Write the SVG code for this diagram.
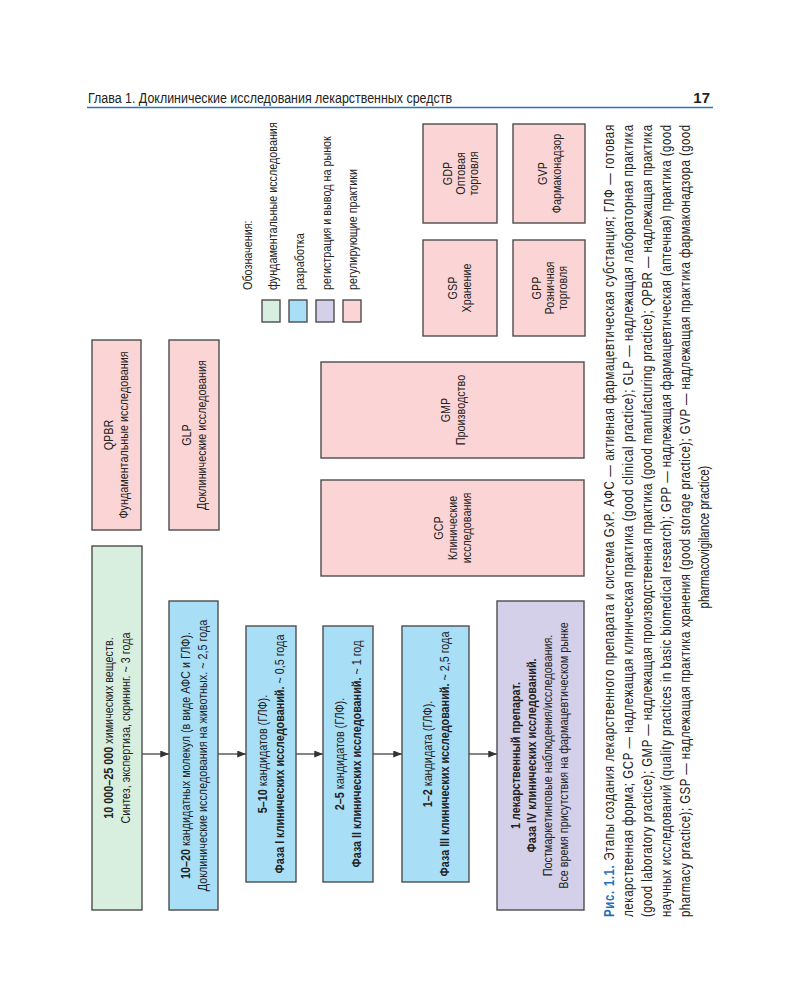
<svg xmlns="http://www.w3.org/2000/svg" width="800" height="1000" viewBox="0 0 800 1000">
<style>
text{font-family:"Liberation Sans",Arial,sans-serif;fill:#222}
.box{stroke:#4d4d4d;stroke-width:1.4}
.g{fill:#d8efdf}.b{fill:#a9def7}.p{fill:#d4d0ea}.r{fill:#fbd5d5}
.t{font-size:13px;text-anchor:middle}
.l{font-size:13px}
.c{font-size:14px}
.bd{font-weight:bold}
.conn{stroke:#333;stroke-width:1.2;fill:none}
</style>
<defs>
<marker id="ah" viewBox="0 0 10 8" refX="10" refY="4" markerWidth="9" markerHeight="7" markerUnits="userSpaceOnUse" orient="auto"><path d="M0,0 L10,4 L0,8 z" fill="#333"/></marker>
</defs>
<rect width="800" height="1000" fill="#fff"/>
<g id="header">
<text x="88" y="103" font-size="14" textLength="364" lengthAdjust="spacingAndGlyphs">Глава 1. Доклинические исследования лекарственных средств</text>
<text x="710" y="103" font-size="15" font-weight="bold" text-anchor="end">17</text>
<line x1="87" y1="107.5" x2="713" y2="107.5" stroke="#2a74c0" stroke-width="1.5"/>
</g>
<g id="connectors">
<path class="conn" d="M142,754 H169" marker-end="url(#ah)"/>
<path class="conn" d="M218,754 H246" marker-end="url(#ah)"/>
<path class="conn" d="M296,754 H323" marker-end="url(#ah)"/>
<path class="conn" d="M373,754 H402" marker-end="url(#ah)"/>
<path class="conn" d="M469,754 H497" marker-end="url(#ah)"/>
</g>
<g id="n_screening">
<rect class="box g" x="92" y="546" width="50" height="364"/>
<text class="t" transform="translate(113,728) rotate(-90) scale(0.83,1)"><tspan class="bd">10 000–25 000</tspan> химических веществ.</text>
<text class="t" transform="translate(130,728) rotate(-90) scale(0.83,1)">Синтез, экспертиза, скрининг. ~ 3 года</text>
</g>
<g id="n_preclinical">
<rect class="box b" x="169" y="601" width="49" height="309"/>
<text class="t" transform="translate(189.5,755.5) rotate(-90) scale(0.83,1)"><tspan class="bd">10–20</tspan> кандидатных молекул (в виде АФС и ГЛФ).</text>
<text class="t" transform="translate(206.5,755.5) rotate(-90) scale(0.83,1)">Доклинические исследования на животных. ~ 2,5 года</text>
</g>
<g id="n_phase1">
<rect class="box b" x="246" y="626" width="50" height="256"/>
<text class="t" transform="translate(267,754) rotate(-90) scale(0.83,1)"><tspan class="bd">5–10</tspan> кандидатов (ГЛФ).</text>
<text class="t" transform="translate(284,754) rotate(-90) scale(0.83,1)"><tspan class="bd">Фаза I клинических исследований.</tspan> ~ 0,5 года</text>
</g>
<g id="n_phase2">
<rect class="box b" x="323" y="626" width="50" height="256"/>
<text class="t" transform="translate(344,754) rotate(-90) scale(0.83,1)"><tspan class="bd">2–5</tspan> кандидатов (ГЛФ).</text>
<text class="t" transform="translate(361,754) rotate(-90) scale(0.83,1)"><tspan class="bd">Фаза II клинических исследований.</tspan> ~ 1 год</text>
</g>
<g id="n_phase3">
<rect class="box b" x="402" y="626" width="67" height="256"/>
<text class="t" transform="translate(431.5,754) rotate(-90) scale(0.83,1)"><tspan class="bd">1–2</tspan> кандидата (ГЛФ).</text>
<text class="t" transform="translate(448.5,754) rotate(-90) scale(0.83,1)"><tspan class="bd">Фаза III клинических исследований.</tspan> ~ 2,5 года</text>
</g>
<g id="n_phase4">
<rect class="box p" x="497" y="601" width="87" height="309"/>
<text class="t bd" transform="translate(519.5,755.5) rotate(-90) scale(0.83,1)">1 лекарственный препарат.</text>
<text class="t bd" transform="translate(535.5,755.5) rotate(-90) scale(0.83,1)">Фаза IV клинических исследований.</text>
<text class="t" transform="translate(551.5,755.5) rotate(-90) scale(0.83,1)">Постмаркетинговые наблюдения/исследования.</text>
<text class="t" transform="translate(567.5,755.5) rotate(-90) scale(0.83,1)">Все время присутствия на фармацевтическом рынке</text>
</g>
<g id="n_qpbr">
<rect class="box r" x="92" y="340" width="49" height="190"/>
<text class="t" transform="translate(113,435) rotate(-90) scale(0.83,1)">QPBR</text>
<text class="t" transform="translate(128,435) rotate(-90) scale(0.83,1)">Фундаментальные исследования</text>
</g>
<g id="n_glp">
<rect class="box r" x="169" y="340" width="50" height="190"/>
<text class="t" transform="translate(191,435) rotate(-90) scale(0.83,1)">GLP</text>
<text class="t" transform="translate(206,435) rotate(-90) scale(0.83,1)">Доклинические исследования</text>
</g>
<g id="n_gcp">
<rect class="box r" x="321" y="480" width="263" height="96"/>
<text class="t" transform="translate(443,528) rotate(-90) scale(0.83,1)">GCP</text>
<text class="t" transform="translate(457,528) rotate(-90) scale(0.83,1)">Клинические</text>
<text class="t" transform="translate(471,528) rotate(-90) scale(0.83,1)">исследования</text>
</g>
<g id="n_gmp">
<rect class="box r" x="321" y="362" width="263" height="96"/>
<text class="t" transform="translate(450,410) rotate(-90) scale(0.83,1)">GMP</text>
<text class="t" transform="translate(465,410) rotate(-90) scale(0.83,1)">Производство</text>
</g>
<g id="n_gsp">
<rect class="box r" x="423" y="240" width="74" height="96"/>
<text class="t" transform="translate(457,288) rotate(-90) scale(0.83,1)">GSP</text>
<text class="t" transform="translate(471,288) rotate(-90) scale(0.83,1)">Хранение</text>
</g>
<g id="n_gdp">
<rect class="box r" x="423" y="124" width="74" height="99"/>
<text class="t" transform="translate(452,173.5) rotate(-90) scale(0.83,1)">GDP</text>
<text class="t" transform="translate(465,173.5) rotate(-90) scale(0.83,1)">Оптовая</text>
<text class="t" transform="translate(478,173.5) rotate(-90) scale(0.83,1)">торговля</text>
</g>
<g id="n_gpp">
<rect class="box r" x="513" y="240" width="72" height="96"/>
<text class="t" transform="translate(541,288) rotate(-90) scale(0.83,1)">GPP</text>
<text class="t" transform="translate(554,288) rotate(-90) scale(0.83,1)">Розничная</text>
<text class="t" transform="translate(567,288) rotate(-90) scale(0.83,1)">торговля</text>
</g>
<g id="n_gvp">
<rect class="box r" x="513" y="124" width="72" height="99"/>
<text class="t" transform="translate(547,173.5) rotate(-90) scale(0.83,1)">GVP</text>
<text class="t" transform="translate(561,173.5) rotate(-90) scale(0.83,1)">Фармаконадзор</text>
</g>
<g id="legend">
<text class="l" transform="translate(252,290) rotate(-90) scale(0.83,1)">Обозначения:</text>
<rect class="box g" x="262" y="300" width="18" height="22"/>
<rect class="box b" x="289" y="300" width="18" height="22"/>
<rect class="box p" x="316" y="300" width="18" height="22"/>
<rect class="box r" x="343" y="300" width="18" height="22"/>
<text class="l" transform="translate(276.5,290) rotate(-90) scale(0.83,1)">фундаментальные исследования</text>
<text class="l" transform="translate(303.5,290) rotate(-90) scale(0.83,1)">разработка</text>
<text class="l" transform="translate(330.5,290) rotate(-90) scale(0.83,1)">регистрация и вывод на рынок</text>
<text class="l" transform="translate(357,290) rotate(-90) scale(0.83,1)">регулирующие практики</text>
</g>
<g id="caption">
<text class="c" transform="translate(614,917) rotate(-90) scale(0.82,1)" textLength="966" lengthAdjust="spacing"><tspan fill="#1f6fbf" font-weight="bold">Рис. 1.1.</tspan> Этапы создания лекарственного препарата и система GxP. АФС — активная фармацевтическая субстанция; ГЛФ — готовая</text>
<text class="c" transform="translate(633,917) rotate(-90) scale(0.82,1)" textLength="966" lengthAdjust="spacing">лекарственная форма; GCP — надлежащая клиническая практика (good clinical practice); GLP — надлежащая лабораторная практика</text>
<text class="c" transform="translate(652,917) rotate(-90) scale(0.82,1)" textLength="966" lengthAdjust="spacing">(good laboratory practice); GMP — надлежащая производственная практика (good manufacturing practice); QPBR — надлежащая практика</text>
<text class="c" transform="translate(671,917) rotate(-90) scale(0.82,1)" textLength="966" lengthAdjust="spacing">научных исследований (quality practices in basic biomedical research); GPP — надлежащая фармацевтическая (аптечная) практика (good</text>
<text class="c" transform="translate(690,917) rotate(-90) scale(0.82,1)" textLength="966" lengthAdjust="spacing">pharmacy practice); GSP — надлежащая практика хранения (good storage practice); GVP — надлежащая практика фармаконадзора (good</text>
<text class="c" text-anchor="middle" transform="translate(709,537) rotate(-90) scale(0.82,1)">pharmacovigilance practice)</text>
</g>
</svg>
